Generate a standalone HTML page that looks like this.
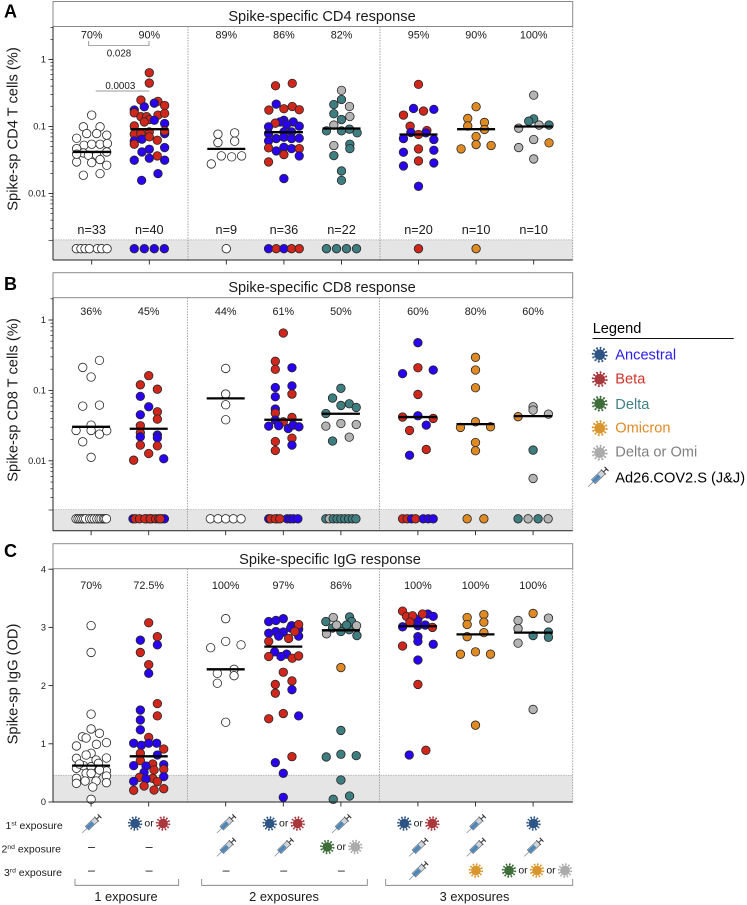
<!DOCTYPE html>
<html lang="en">
<head>
<meta charset="utf-8">
<title>Spike-specific T cell and IgG responses</title>
<style>
html,body{margin:0;padding:0;background:#fff;width:747px;height:905px;overflow:hidden}
svg{display:block;font-family:"Liberation Sans",Arial,sans-serif}
text{fill:#1a1a1a}
</style>
</head>
<body>
<svg id="figure" xmlns="http://www.w3.org/2000/svg" width="747" height="905" viewBox="0 0 747 905">
  <g font-weight="700" font-size="18">
    <text x="4" y="17.5" fill="#000" style="fill:#000">A</text>
    <text x="4" y="290" style="fill:#000">B</text>
    <text x="4" y="557" style="fill:#000">C</text>
  </g>
  <g>
    <rect x="53" y="1.5" width="519.7" height="25" fill="#fff" stroke="#8a8a8a"/>
    <text x="322" y="21" text-anchor="middle" font-size="14.6">Spike-specific CD4 response</text>
    <rect x="53" y="272.7" width="519.7" height="25" fill="#fff" stroke="#8a8a8a"/>
    <text x="322" y="292" text-anchor="middle" font-size="14.6">Spike-specific CD8 response</text>
    <rect x="53" y="543.7" width="519.7" height="25" fill="#fff" stroke="#8a8a8a"/>
    <text x="330" y="564" text-anchor="middle" font-size="14.6">Spike-specific IgG response</text>
  </g>
  <g id="plots"></g>
  <g font-size="14.7">
    <text transform="translate(17.5,129) rotate(-90)" text-anchor="middle">Spike-sp CD4 T cells (%)</text>
    <text transform="translate(17.5,400) rotate(-90)" text-anchor="middle">Spike-sp CD8 T cells (%)</text>
    <text transform="translate(17.5,684) rotate(-90)" text-anchor="middle">Spike-sp IgG (OD)</text>
  </g>
  <g font-size="9.8">
    <path d="M88.7 41V45.7H149V41" fill="none" stroke="#777" stroke-width=".7"/>
    <text x="119" y="56.5" text-anchor="middle">0.028</text>
    <path d="M95.7 91H149.3" fill="none" stroke="#777" stroke-width=".7"/>
    <text x="120.3" y="89" text-anchor="middle">0.0003</text>
  </g>
  <g font-size="10.5">
    <text x="5.5" y="829">1<tspan dy="-3.4" font-size="6.8">st</tspan><tspan dy="3.4"> exposure</tspan></text>
    <text x="1.5" y="852.3">2<tspan dy="-3.4" font-size="6.8">nd</tspan><tspan dy="3.4"> exposure</tspan></text>
    <text x="4" y="876">3<tspan dy="-3.4" font-size="6.8">rd</tspan><tspan dy="3.4"> exposure</tspan></text>
  </g>
  <g id="exposure-icons"></g>
  <g font-size="12.8">
    <path d="M75 879V885.3H178.7V879" fill="none" stroke="#777" stroke-width=".8"/>
    <path d="M201.7 879V885.3H367.3V879" fill="none" stroke="#777" stroke-width=".8"/>
    <path d="M385.7 879V885.3H572.7V879" fill="none" stroke="#777" stroke-width=".8"/>
    <text x="126" y="901" text-anchor="middle">1 exposure</text>
    <text x="284" y="901" text-anchor="middle">2 exposures</text>
    <text x="474.5" y="901" text-anchor="middle">3 exposures</text>
  </g>
  <g id="legend" font-size="14.6">
    <text x="592.7" y="333" style="fill:#000">Legend</text>
    <line x1="592.5" y1="338.5" x2="733.7" y2="338.5" stroke="#111"/>
    <text x="615.3" y="359.7" style="fill:#2b1cf0">Ancestral</text>
    <text x="615.3" y="383.7" style="fill:#d0342c">Beta</text>
    <text x="615.3" y="409" style="fill:#3f8285">Delta</text>
    <text x="615.3" y="432.7" style="fill:#e08a24">Omicron</text>
    <text x="615.3" y="456.7" style="fill:#808080">Delta or Omi</text>
    <text x="615.3" y="482.3" style="fill:#000">Ad26.COV2.S (J&amp;J)</text>
  </g>
</svg>
<script>
// ---------- shared categories ----------
const columnGroups = [0, 0, 1, 1, 1, 2, 2, 2];
const strainColors = { W: '#ffffff', A: '#2a00f2', B: '#d0261c', D: '#3e7d80', O: '#e08a24', G: '#b4b4b4' };
const BELOW_DETECTION = 0.0015;

// ---------- panel A: CD4 ----------
const cd4TickValues = [1, 0.1, 0.01];
const cd4TickLabels = ['1', '0.1', '0.01'];
const cd4Percents = ['70%', '90%', '89%', '86%', '82%', '95%', '90%', '100%'];
const cd4Counts = ['n=33', 'n=40', 'n=9', 'n=36', 'n=22', 'n=20', 'n=10', 'n=10'];
const cd4Medians = [0.0417, 0.0912, 0.0463, 0.0823, 0.0933, 0.0759, 0.0912, 0.1];
const cd4Values = [
  [.148,.099,.099,.0785,.0785,.0668,.0742,.0525,.0544,.0544,.0557,.0468,.0417,.0403,.0372,.0372,.0296,.0289,.0321,.0264,.0187,.0198,.0386],
  [.635,.445,.248,.237,.223,.197,.176,.206,.160,.140,.140,.148,.157,.127,.117,.124,.102,.111,.0768,.0785,.0832,.0785,.0646,.0700,.0624,.0861,.0610,.0544,.0485,.0458,.0417,.0364,.0314,.0336,.0314,.0198,.0157],
  [.0768,.0804,.0576,.0603,.0364,.0352,.0364,.0276],
  [.406,.440,.216,.176,.184,.199,.178,.124,.117,.112,.117,.107,.099,.101,.0785,.0832,.0832,.061,.0661,.0693,.0661,.0668,.048,.049,.0468,.0468,.0432,.0381,.0364,.0296,.0167],
  [.346,.253,.213,.199,.155,.141,.127,.105,.0861,.0861,.0912,.0804,.052,.0544,.0468,.0368,.0217,.0157],
  [.425,.186,.170,.180,.148,.101,.0871,.0813,.0804,.0759,.0661,.0639,.0463,.0442,.0413,.0306,.0286,.0258,.0128],
  [.197,.132,.115,.102,.0902,.0709,.0538,.0463,.052],
  [.294,.130,.120,.0944,.105,.105,.0639,.057,.0485,.0328]
];
const cd4Lanes = [
  [0,-1.09,1.09,-.65,.65,-1.96,1.96,-1,0,1.09,2.04,-1.96,1.96,-1.09,-.43,.65,-1.96,0,1.09,1.96,-1.09,1.09,-1.96],
  [0,0,-1.09,1.13,.65,-.65,-1.96,2,-1.96,-1.09,-.35,1.13,2,0,-.65,.65,-1.96,2,-1.96,-1.09,0,2,-.96,0,1.04,2,-1.96,-1.96,2,0,-.96,1.04,-1.96,0,2,1.13,-1],
  [-1.09,1.09,-1.09,1.09,-.65,.7,2,-1.96],
  [-1.09,1.09,-1,-1.96,0,1.09,2,0,-.5,-1.13,1.22,.35,-2,2,-2,1,0,-2,-1,0,1,2,-2,0,1,2,-1,0,2,-2,0],
  [0,0,-1,1.04,-1,1.09,0,-1,-1.96,0,1.04,2.04,-1,1.09,1.09,-1,0,0],
  [0,-.65,.65,2,-1.96,-1.09,1.09,-1,.96,0,-1.96,2,0,2,-1.96,0,2,-1.96,0],
  [0,-1.09,1.09,-1.09,1.09,0,0,-1.96,1.96],
  [0,0,-.65,-1.96,.7,2,0,2,-1.96,0]
];
const cd4Strains = [
  'WWWWWWWWWWWWWWWWWWWWWWW',
  'BBBBAAABBBBBBBBABABBBAABBBABAAABAAAAA',
  'WWWWWWWW',
  'BBABBBBAABAAAAAAAAAAAABAABABABA',
  'GDDGDGDGDDDDGDDDDD',
  'BABABBBAABAABAABAAA',
  'OOOOOOOOO',
  'GDDGGDGOGG'
];
const cd4BandLanes = [
  [-2,-1.4,-.87,-.3,.74,1.3,2],
  [-1.96,-.65,.65,1.96],
  [0],
  [-2,-1,0,1,2],
  [-1.96,-.65,.65,1.96],
  [0],
  [0],
  []
];
const cd4BandStrains = ['WWWWWWW', 'AAAA', 'W', 'ABABB', 'DDDD', 'B', 'O', ''];

// ---------- panel B: CD8 ----------
const cd8TickValues = [1, 0.1, 0.01];
const cd8TickLabels = ['1', '0.1', '0.01'];
const cd8Percents = ['36%', '45%', '44%', '61%', '50%', '60%', '80%', '60%'];
const cd8Medians = [0.0304, 0.0285, 0.077, 0.0383, 0.0466, 0.0418, 0.0332, 0.0431];
const cd8Values = [
  [.267,.212,.155,.0598,.0618,.0321,.0270,.0270,.0267,.0239,.0186,.0112],
  [.162,.120,.104,.0822,.0586,.0497,.0451,.0391,.0315,.0232,.0250,.0212,.0219,.0163,.0167,.0127,.0102,.0107],
  [.205,.0887,.0625,.0383],
  [.654,.259,.199,.210,.110,.116,.0813,.0887,.0543,.0476,.0358,.0413,.0379,.0311,.0315,.0288,.0321,.0304,.0210,.0188,.0167,.0140],
  [.107,.0778,.0646,.0612,.0573,.0470,.0339,.0311,.0328,.0217,.0191],
  [.476,.210,.173,.195,.0877,.0418,.0436,.0400,.0321,.0270,.0145,.0120],
  [.295,.195,.109,.0358,.0298,.0304,.0182,.0139],
  [.0586,.0525,.0460,.0423,.0142,.00562]
];
const cd8Lanes = [
  [1.09,-1.09,0,-1.09,1.09,0,-1.96,0,2.04,1.09,-1.09,0],
  [0,-1.09,1.13,-1.09,0,1.13,-1.09,1.13,-1.09,1.13,-1.09,1.13,-1.09,1.13,-1.09,0,-1.96,1.96],
  [0,0,0,0],
  [0,-1.04,-1.04,1.13,-1.04,1.13,-1.04,1.13,-1.04,-1.04,0,1.13,-1.04,-1.9,-.6,.65,1.3,2.04,1.13,-1.04,1.13,-1.04],
  [0,-1.09,1.09,0,2,-1.96,0,-1.96,2,1.09,-1.09],
  [0,0,-2,2,0,-2,0,2,1.09,-1.09,1.09,-1.09],
  [0,0,0,0,-1.96,1.96,0,0],
  [0,0,2,-1.96,0,0]
];
const cd8Strains = [
  'WWWWWWWWWWWW',
  'BBBAABABBABAABBBBA',
  'WWWW',
  'BBBAAAABABBBAAAAAABBAB',
  'DDDDDDGGGGD',
  'ABAABBABABBA',
  'OOOOOOOO',
  'GGGODG'
];
const cd8BandLanes = [
  [-1.96,-1.7,-1.45,-1.2,-.95,-.7,-.2,.1,.4,.75,1.05,1.3,1.6,1.8,2],
  [-2.05,-.3,.1,.4,1.7,2.05,-1.75,-1.2,-.5,.2,.9,1.3,1.5],
  [-2,-1,0,1,2],
  [-1.9,-.8,.5,.9,1.3,1.9,-1.65,-1.05,-.45],
  [-1.96,-1.5,-1,-.5,0,.5,1,1.5,1.96],
  [-2,-1.4,-.83,-.3,.7,1.35,2],
  [-1.09,1.09],
  [-1.96,-.65,.65,1.96]
];
const cd8BandStrains = ['WWWWWWWWWWWWWWW', 'AAAAAABBBBBBB', 'WWWWW', 'AAAAAABBB', 'DGDDDDDDD', 'BBABAAA', 'OO', 'DGDG'];

// ---------- panel C: IgG ----------
const iggTickValues = [0, 1, 2, 3, 4];
const iggTickLabels = ['0', '1', '2', '3', '4'];
const iggPercents = ['70%', '72.5%', '100%', '97%', '86%', '100%', '100%', '100%'];
const iggMedians = [0.625, 0.785, 2.28, 2.67, 2.95, 3.02, 2.88, 2.91];
const iggValues = [
  [3.03,2.57,1.51,1.255,1.18,1.12,1.10,.963,1.02,.991,.837,.751,.808,.756,.722,.665,.625,.607,.579,.533,.493,.493,.447,.407,.361,.361,.321,.332,.258,.046,.653,.55,.493],
  [3.08,2.84,2.78,2.70,2.57,2.36,2.21,1.69,1.58,1.48,1.41,1.24,1.11,1.01,.974,1.01,1.01,.911,.837,.808,.711,.653,.625,.619,.642,.55,.562,.51,.424,.407,.436,.395,.35,.355,.275,.229,.206,.201],
  [3.15,2.65,2.76,2.70,2.28,2.21,2.17,2.04,1.37],
  [3.15,3.10,3.12,3.03,2.99,2.90,2.93,2.92,2.97,2.85,2.85,3.05,2.93,2.81,2.76,2.58,2.54,2.50,2.50,2.47,2.51,2.23,2.08,2.02,1.93,1.87,1.52,1.48,1.43,.779,.676,.493,.08],
  [3.17,3.18,3.10,3.10,2.99,2.99,2.96,2.93,3.04,3.04,3.03,2.89,2.86,2.31,1.23,.82,.774,.797,.378,.103,.046],
  [3.14,3.23,3.19,3.01,3.03,3.04,3.28,3.23,3.19,3.20,3.09,3.00,2.84,2.76,2.68,2.71,2.44,2.02,.808,.888],
  [3.22,3.17,3.09,3.05,2.91,2.84,2.54,2.58,2.54,1.32],
  [3.24,3.16,3.12,2.98,2.92,2.86,2.83,2.73,1.59]
];
const iggLanes = [
  [0,0,0,0,1.09,-1.13,-.65,-1.91,2,.7,0,-1.91,-.65,2,.65,.96,-1,0,-1.91,2,-.65,.7,2,-1.91,-.78,.65,-1.91,2,.22,0,-1.52,1.09,0],
  [0,1.13,-1.09,1.13,-1.09,0,0,1.13,-1.09,1.13,-1.09,-1.09,0,-1.96,-.96,0,1.04,1.96,-1.09,1.13,-1.09,.52,-1.96,-.35,1.96,.7,1.96,-.6,-1.2,.52,1.96,-.35,1.13,-1.96,-.6,1.96,.7,-1.96],
  [0,-1.96,0,2,1.09,-1.09,1.09,-1.09,0],
  [0,-1.9,-.96,1.09,.96,-1.9,-.96,0,2,-.6,2,2,1.5,.7,-1.9,-1.13,.43,-.3,-1.9,1.17,2,0,1.13,-1.04,1.13,-1.04,0,2,-1.9,1.13,-1.04,0,0],
  [-1,1.13,-1.96,1.39,-1.09,-.13,1.09,0,.74,-.57,2.04,-1.87,2.09,0,0,0,-1.91,2,0,1.13,-1],
  [0,1.3,2,-2,0,.96,-2,.6,-1.48,-.7,-1.04,1.9,0,0,-2,2,0,0,-1.13,1.04],
  [1.09,-1.09,1.09,-1.09,1.09,-1.09,-1.96,0,1.96,0],
  [0,2,-1.96,-1.96,2,0,2,-1.96,0]
];
const iggStrains = [
  'WWWWWWWWWWWWWWWWWWWWWWWWWWWWWWWWW',
  'BBAABBABABAABAAAABBABBAAABBABBAABABBBB',
  'WWWWWWWWW',
  'AAAAAAAAAAABBBBAAABBBBBBABBABBAAA',
  'GDDDDDDDDGGGDODDDDDDD',
  'AAAAAABBBBBBAABAABAB',
  'OOOOOOOOOO',
  'OGGGDDDGG'
];

// ---------- exposure icon table ----------
const exposureRows = [
  [['S'], ['A','or','B'], ['S'], ['A','or','B'], ['S'], ['A','or','B'], ['S'], ['A']],
  [['-'], ['-'], ['S'], ['S'], ['D','or','G'], ['S'], ['S'], ['S']],
  [['-'], ['-'], ['-'], ['-'], ['-'], ['S'], ['O'], ['D','or','O','or','G']]
];
const legendIcons = ['A', 'B', 'D', 'O', 'G', 'S'];
const virusColors = { A: '#2e5585', B: '#a8383d', D: '#3f6e3a', O: '#d9962e', G: '#ababab' };

// ---------- helpers ----------
const NS = 'http://www.w3.org/2000/svg';
const LANE_WIDTH = 7.67;
const PLOT_LEFT = 53, PLOT_RIGHT = 572.7;
function xCol(i, shift) { return 91.7 + shift + 57.6 * i + 19.4 * columnGroups[i]; }
function cd4Y(v) { return 59.5 - Math.log10(v) * 67; }
function cd8Y(v) { return 320 - Math.log10(v) * 70.4; }
function iggY(v) { return 802 - v * 58.2; }
function make(tag, attrs, parent, text) {
  const el = document.createElementNS(NS, tag);
  for (const k in attrs) el.setAttribute(k, attrs[k]);
  if (text !== undefined) el.textContent = text;
  parent.appendChild(el);
  return el;
}
function drawDot(parent, x, y, strain) {
  const dot = make('circle', { cx: x, cy: y, r: 4.25, fill: strainColors[strain], stroke: '#262626', 'stroke-width': 0.8 }, parent);
  
  
}
function drawVirus(parent, cx, cy, kind, scale) {
  const g = make('g', { transform: 'translate(' + cx + ' ' + cy + ') scale(' + scale + ')' }, parent);
  
  
  const color = virusColors[kind];
  for (let i = 0; i < 12; i++) {
    const a = i * Math.PI / 6 + 0.13, c = Math.cos(a), s = Math.sin(a);
    make('line', { x1: 0, y1: 0, x2: 6.3 * c, y2: 6.3 * s, stroke: color, 'stroke-width': 1 }, g);
    make('circle', { cx: 6.5 * c, cy: 6.5 * s, r: 0.95, fill: color }, g);
  }
  make('circle', { cx: 0, cy: 0, r: 4.9, fill: color }, g);
}
function drawSyringe(parent, cx, cy, scale) {
  const g = make('g', { transform: 'translate(' + cx + ' ' + cy + ') rotate(-44) scale(' + scale + ')' }, parent);
  
  
  make('line', { x1: -12.5, y1: 0, x2: -6, y2: 0, stroke: '#858d94', 'stroke-width': 0.8 }, g);
  make('rect', { x: -6, y: -2.5, width: 13, height: 5, fill: '#cfd5da', stroke: '#5f666c', 'stroke-width': 0.6 }, g);
  make('rect', { x: -6, y: -1.9, width: 8, height: 3.8, fill: '#4f88b8' }, g);
  make('line', { x1: 7, y1: -3.3, x2: 7, y2: 3.3, stroke: '#444', 'stroke-width': 0.8 }, g);
  make('line', { x1: 7, y1: 0, x2: 11, y2: 0, stroke: '#444', 'stroke-width': 1.1 }, g);
  make('line', { x1: 11, y1: -2.6, x2: 11, y2: 2.6, stroke: '#222', 'stroke-width': 1 }, g);
}

// ---------- panel renderer ----------
function drawPanel(p) {
  const root = make('g', {}, document.getElementById('plots'));
  
  

  const bandTop = p.y(p.bandLimit);
  const band = make('rect', { x: PLOT_LEFT, y: bandTop, width: PLOT_RIGHT - PLOT_LEFT, height: p.bottom - bandTop, fill: '#e5e5e5' }, root);
  
  
  const bandLine = make('line', { x1: PLOT_LEFT, x2: PLOT_RIGHT, y1: bandTop, y2: bandTop, stroke: '#aaa', 'stroke-width': 0.7, 'stroke-dasharray': '1.5 1' }, root);
  
  

  [2, 5, 8].forEach(function (i) {
    const x = i === 8 ? PLOT_RIGHT : (xCol(i - 1, p.shift) + xCol(i, p.shift)) / 2 + (i === 2 ? 0.2 : 0);
    const div = make('line', { x1: x, x2: x, y1: p.top, y2: p.bottom, stroke: '#9a9a9a', 'stroke-width': 0.9, 'stroke-dasharray': '1.5 1.2' }, root);
    
    
  });

  p.values.forEach(function (col, c) {
    const cx = xCol(c, p.shift);
    col.forEach(function (v, k) {
      drawDot(root, cx + p.lanes[c][k] * LANE_WIDTH, p.y(v), p.strains[c][k]);
    });
    if (p.bandLanes) {
      p.bandLanes[c].forEach(function (lane, k) {
        drawDot(root, cx + lane * LANE_WIDTH, p.y(BELOW_DETECTION), p.bandStrains[c][k]);
      });
    }
    const my = p.y(p.medians[c]);
    const med = make('line', { x1: cx - 19, x2: cx + 19, y1: my, y2: my, stroke: '#000', 'stroke-width': 2.3 }, root);
    
    

    const pct = make('text', { x: cx, y: p.percentY, 'text-anchor': 'middle', 'font-size': 10.8 }, root, p.percents[c]);
    
    

    if (p.counts) {
      const n = make('text', { x: cx, y: 234, 'text-anchor': 'middle', 'font-size': 12.7 }, root, p.counts[c]);
      
      
    }

    const tick = make('line', { x1: cx, x2: cx, y1: p.bottom, y2: p.bottom + 4.5, stroke: '#222', 'stroke-width': 0.9 }, root);
    
    
  });

  const yAxis = make('line', { x1: PLOT_LEFT, x2: PLOT_LEFT, y1: p.top, y2: p.bottom, stroke: '#222', 'stroke-width': 1 }, root);
  
  
  const xAxis = make('line', { x1: PLOT_LEFT, x2: PLOT_RIGHT, y1: p.bottom, y2: p.bottom, stroke: '#222', 'stroke-width': 1 }, root);
  
  

  p.tickValues.forEach(function (v, i) {
    const ty = p.y(v);
    const t = make('line', { x1: PLOT_LEFT - 4.5, x2: PLOT_LEFT, y1: ty, y2: ty, stroke: '#222', 'stroke-width': 0.9 }, root);
    
    
    const label = make('text', { x: PLOT_LEFT - 7, y: ty + 3.2, 'text-anchor': 'end', 'font-size': 9.2 }, root, p.tickLabels[i]);
    
    
  });

  if (p.log) {
    [1, 0.1, 0.01, 0.001].forEach(function (decade) {
      [2, 3, 4, 5, 6, 7, 8, 9].forEach(function (m) {
        const v = decade * m;
        const ty = p.y(v);
        if (ty < p.top || v < p.bandLimit - 1e-3 * p.bandLimit - 0.00004) return;
        const isEdge = Math.abs(v - 0.002) < 1e-9;
        const minor = make('line', { x1: PLOT_LEFT - (isEdge ? 4.5 : 2.6), x2: PLOT_LEFT, y1: ty, y2: ty, stroke: '#222', 'stroke-width': 0.7 }, root);
        
        
      });
    });
  }
}

drawPanel({ name: 'cd4', y: cd4Y, log: true, shift: 0, top: 26.5, bottom: 260, bandLimit: 0.00203, percentY: 38.7,
  tickValues: cd4TickValues, tickLabels: cd4TickLabels, percents: cd4Percents, counts: cd4Counts, medians: cd4Medians,
  values: cd4Values, lanes: cd4Lanes, strains: cd4Strains, bandLanes: cd4BandLanes, bandStrains: cd4BandStrains });
drawPanel({ name: 'cd8', y: cd8Y, log: true, shift: -0.6, top: 297.7, bottom: 530.7, bandLimit: 0.00203, percentY: 315,
  tickValues: cd8TickValues, tickLabels: cd8TickLabels, percents: cd8Percents, medians: cd8Medians,
  values: cd8Values, lanes: cd8Lanes, strains: cd8Strains, bandLanes: cd8BandLanes, bandStrains: cd8BandStrains });
drawPanel({ name: 'igg', y: iggY, log: false, shift: -0.6, top: 568.7, bottom: 802, bandLimit: 0.46, percentY: 589,
  tickValues: iggTickValues, tickLabels: iggTickLabels, percents: iggPercents, medians: iggMedians,
  values: iggValues, lanes: iggLanes, strains: iggStrains });

// ---------- exposure table ----------
const iconRoot = document.getElementById('exposure-icons');
exposureRows.forEach(function (row, r) {
  const rowY = 824 + r * 23.5;
  row.forEach(function (cell, c) {
    const cx = xCol(c, -0.2) + (cell.length === 5 ? 3.5 : 0);
    const pitch = 14;
    cell.forEach(function (item, k) {
      const x = cx + (k - (cell.length - 1) / 2) * pitch;
      if (item === 'S') {
        drawSyringe(iconRoot, x, rowY, 1.02);
      } else if (item === '-') {
        const dash = make('text', { x: x, y: rowY + 3.5, 'text-anchor': 'middle', 'font-size': 12.5 }, iconRoot, '\u2013');
        
        
      } else if (item === 'or') {
        const or = make('text', { x: x, y: rowY + 2.5, 'text-anchor': 'middle', 'font-size': 10.5 }, iconRoot, 'or');
        
        
      } else {
        drawVirus(iconRoot, x, rowY - 0.5, item, 0.98);
      }
    });
  });
});

// ---------- legend icons ----------
const legendRoot = document.getElementById('legend');
legendIcons.forEach(function (kind, i) {
  const rowY = 354.7 + i * 24.5;
  if (kind === 'S') {
    drawSyringe(legendRoot, 598, rowY, 1.08);
  } else {
    drawVirus(legendRoot, 599.7, rowY, kind, 1.08);
  }
});
</script>
</body>
</html>
